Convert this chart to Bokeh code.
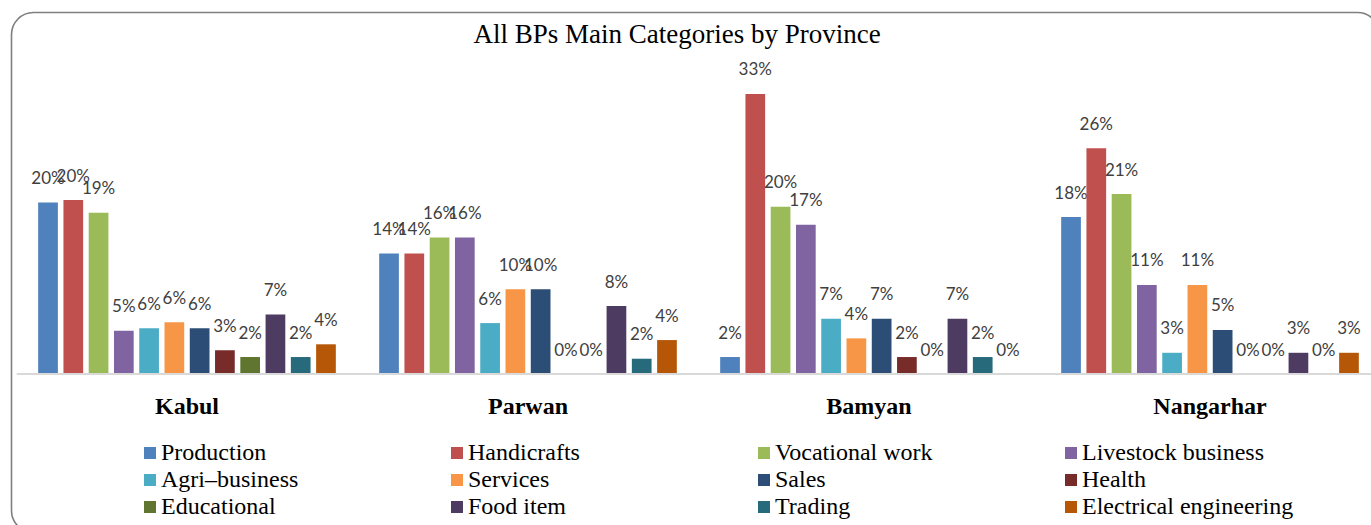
from bokeh.plotting import figure
from bokeh.models import (Range1d, Legend, LegendItem, ColumnDataSource, Span)
from bokeh.core.properties import value
from bokeh.embed import file_html
from bokeh.resources import INLINE

provinces = ["Kabul", "Parwan", "Bamyan", "Nangarhar"]
categories = ["Production", "Handicrafts", "Vocational work", "Livestock business",
              "Agri–business", "Services", "Sales", "Health",
              "Educational", "Food item", "Trading", "Electrical engineering"]
colors = ["#4F81BD", "#C0504D", "#9BBB59", "#8064A2",
          "#4BACC6", "#F79646", "#2C4D75", "#772C2A",
          "#5F7530", "#4D3B62", "#276A7C", "#B65708"]

# bar heights (%) per province, in category order
kabul = [20.2, 20.5, 19.0, 5.1, 5.4, 6.1, 5.4, 2.8, 2.0, 7.0, 2.0, 3.5]
parwan = [14.2, 14.2, 16.1, 16.1, 6.0, 10.0, 10.0, 0.0, 0.0, 8.0, 1.8, 4.0]
bamyan = [2.0, 33.0, 19.7, 17.6, 6.5, 4.2, 6.5, 2.0, 0.0, 6.5, 2.0, 0.0]
nangarhar = [18.5, 26.6, 21.2, 10.5, 2.5, 10.5, 5.2, 0.0, 0.0, 2.5, 0.0, 2.5]

# data labels as printed on the chart
kabul_labels = ["20%", "20%", "19%", "5%", "6%", "6%", "6%", "3%", "2%", "7%", "2%", "4%"]
parwan_labels = ["14%", "14%", "16%", "16%", "6%", "10%", "10%", "0%", "0%", "8%", "2%", "4%"]
bamyan_labels = ["2%", "33%", "20%", "17%", "7%", "4%", "7%", "2%", "0%", "7%", "2%", "0%"]
nangarhar_labels = ["18%", "26%", "21%", "11%", "3%", "11%", "5%", "0%", "0%", "3%", "0%", "3%"]

title_text = "All BPs Main Categories by Province"

values_by_prov = [kabul, parwan, bamyan, nangarhar]
labels_by_prov = [kabul_labels, parwan_labels, bamyan_labels, nangarhar_labels]

W, H = 1371, 525
LEFT, TOP = 16, 55
px_per_unit = 341.0
px_per_pct = 8.485
baseline_px = 373.5
frame_w = W - LEFT
frame_h = H - TOP
step = 0.0741
bar_w = 0.0578

border_svg = ("url(\"data:image/svg+xml;utf8,"
              "<svg xmlns='http://www.w3.org/2000/svg' width='1371' height='525'>"
              "<rect x='11.5' y='12.5' width='1368' height='520' rx='22' ry='22' "
              "fill='none' stroke='%237f7f7f' stroke-width='1.6'/></svg>\")")

p = figure(frame_width=frame_w, frame_height=frame_h,
           x_range=Range1d(-0.5, -0.5 + frame_w / px_per_unit),
           y_range=Range1d(-(H - baseline_px) / px_per_pct,
                           (baseline_px - TOP) / px_per_pct),
           output_backend="svg", toolbar_location=None,
           x_axis_location=None, y_axis_location=None,
           min_border_left=LEFT, min_border_right=0,
           min_border_top=TOP, min_border_bottom=0,
           background_fill_color=None, border_fill_color=None,
           outline_line_color=None, title=title_text)
p.styles = {"background-color": "white", "background-image": border_svg,
            "background-repeat": "no-repeat"}

p.xgrid.visible = False
p.ygrid.visible = False

p.title.align = "left"
p.title.offset = 457
p.title.text_font = "Liberation Serif"
p.title.text_font_style = "normal"
p.title.text_font_size = "27px"
p.title.text_color = "black"
p.title.standoff = 13

# category axis baseline
p.add_layout(Span(location=0, dimension="width", line_color="#d9d9d9", line_width=2))

# province (category axis) labels
p.text(x=list(range(len(provinces))), y=[0] * len(provinces), text=provinces,
       text_align="center", text_baseline="middle", y_offset=32,
       text_font=value("Liberation Serif"), text_font_style="bold",
       text_font_size="24px", text_color="black")

items = []
n = len(categories)
for i, cat in enumerate(categories):
    off = (i - (n - 1) / 2) * step
    src = ColumnDataSource(dict(
        x=[g + off for g in range(len(provinces))],
        top=[values_by_prov[g][i] for g in range(len(provinces))],
        label=[labels_by_prov[g][i] for g in range(len(provinces))],
    ))
    r = p.vbar(x="x", top="top", bottom=0, width=bar_w, source=src,
               fill_color=colors[i], line_color=None)
    p.text(x="x", y="top", text="label", source=src,
           text_align="center", text_baseline="middle", y_offset=-25,
           text_font=value("Lato"), text_font_size="17px", text_color="#404040")
    items.append(LegendItem(label=cat, renderers=[r]))

legend = Legend(items=items, location=(126, 5), orientation="horizontal", ncols=4,
                glyph_width=15, glyph_height=15, label_standoff=4,
                label_width=288, label_height=27, spacing=0, padding=0, margin=0,
                border_line_color=None, background_fill_alpha=0,
                label_text_font="Liberation Serif", label_text_font_size="24px",
                label_text_color="black")
p.add_layout(legend)

open("out.html", "w").write(file_html(p, INLINE))
